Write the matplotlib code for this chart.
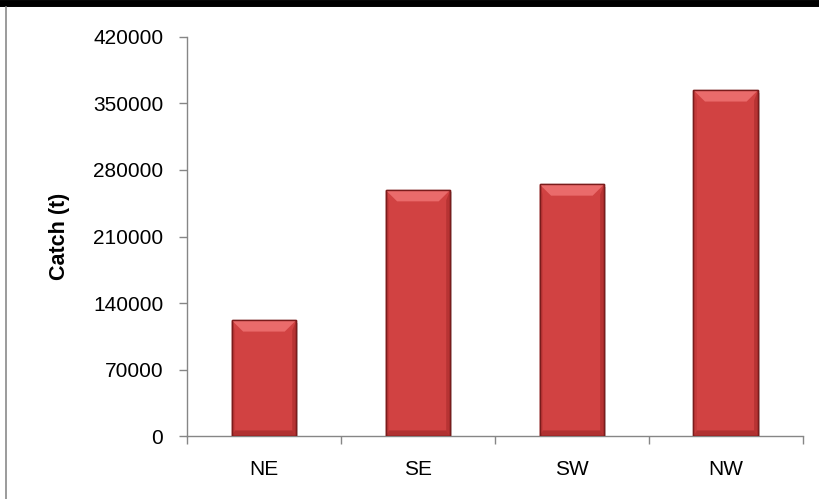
import numpy as np
import matplotlib.pyplot as plt
from matplotlib.patches import Polygon
from matplotlib.lines import Line2D

# Data
regions = ["NE", "SE", "SW", "NW"]
catch = [122000, 259000, 265000, 364000]
yticks = [0, 70000, 140000, 210000, 280000, 350000, 420000]

plt.rcParams['font.family'] = ['Liberation Sans', 'DejaVu Sans']

fig = plt.figure(figsize=(8.2, 4.99), dpi=100)
ax = fig.add_axes([0.228, 0.126, 0.751, 0.800])

x = np.arange(len(regions))
width = 0.42
bars = ax.bar(x, catch, width=width, color='#d14242', edgecolor='#7a1c1c',
              linewidth=1.0, zorder=3)

# bevel / shading look
bev_y = 12000
bev_x = 0.075
for b in bars:
    x0, w, h = b.get_x(), b.get_width(), b.get_height()
    # drop shadow
    ax.add_patch(Polygon([(x0 + 0.012, -2500), (x0 + w + 0.012, -2500),
                          (x0 + w + 0.012, h - 2500), (x0 + 0.012, h - 2500)],
                         closed=True, color='#b0b0b0', alpha=0.5, zorder=2, lw=0))
    # light top bevel
    ax.add_patch(Polygon([(x0, h), (x0 + w, h), (x0 + w - bev_x, h - bev_y), (x0 + bev_x, h - bev_y)],
                         closed=True, facecolor='#ea6b6b', edgecolor='none', zorder=4))
    # darker side bevels
    ax.add_patch(Polygon([(x0 + w, h), (x0 + w, 0), (x0 + w - bev_x * 0.35, bev_y * 0.5),
                          (x0 + w - bev_x * 0.35, h - bev_y * 0.9)],
                         closed=True, facecolor='#a72a2a', edgecolor='none', zorder=4, alpha=0.6))
    ax.add_patch(Polygon([(x0, h), (x0, 0), (x0 + bev_x * 0.3, bev_y * 0.5),
                          (x0 + bev_x * 0.3, h - bev_y * 0.9)],
                         closed=True, facecolor='#b83434', edgecolor='none', zorder=4, alpha=0.5))
    # bottom bevel
    ax.add_patch(Polygon([(x0, 0), (x0 + w, 0), (x0 + w - bev_x * 0.35, bev_y * 0.5), (x0 + bev_x * 0.3, bev_y * 0.5)],
                         closed=True, facecolor='#9c2626', edgecolor='none', zorder=4, alpha=0.6))
    ax.add_patch(Polygon([(x0, 0), (x0 + w, 0), (x0 + w, h), (x0, h)],
                         closed=True, facecolor='none', edgecolor='#7a1c1c', lw=1.0, zorder=5))

ax.set_xlim(-0.5, len(regions) - 0.5)
ax.set_ylim(0, 420000)
ax.set_yticks(yticks)
ax.set_yticklabels([str(v) for v in yticks])
ax.set_xticks(x)
ax.set_xticklabels(regions)
ax.set_xticks(np.arange(len(regions) + 1) - 0.5, minor=True)

for s in ['top', 'right']:
    ax.spines[s].set_visible(False)
for s in ['left', 'bottom']:
    ax.spines[s].set_color('#868686')
    ax.spines[s].set_linewidth(1.0)

ax.tick_params(axis='y', length=6, width=1, color='#868686', labelsize=15, pad=11)
ax.tick_params(axis='x', which='major', length=0, labelsize=15, pad=17)
ax.tick_params(axis='x', which='minor', length=6, width=1, color='#868686')

ax.set_ylabel("Catch (t)", fontsize=15.5, fontweight='bold')
ax.yaxis.set_label_coords(-0.19, 0.5)

# outer frame pieces
fig.add_artist(Line2D([0, 1], [0.993, 0.993], transform=fig.transFigure, color='black', lw=5))
fig.add_artist(Line2D([0.0073, 0.0073], [0, 0.985], transform=fig.transFigure, color='#8a8a8a', lw=1.2))

fig.savefig("out.png", dpi=100)
